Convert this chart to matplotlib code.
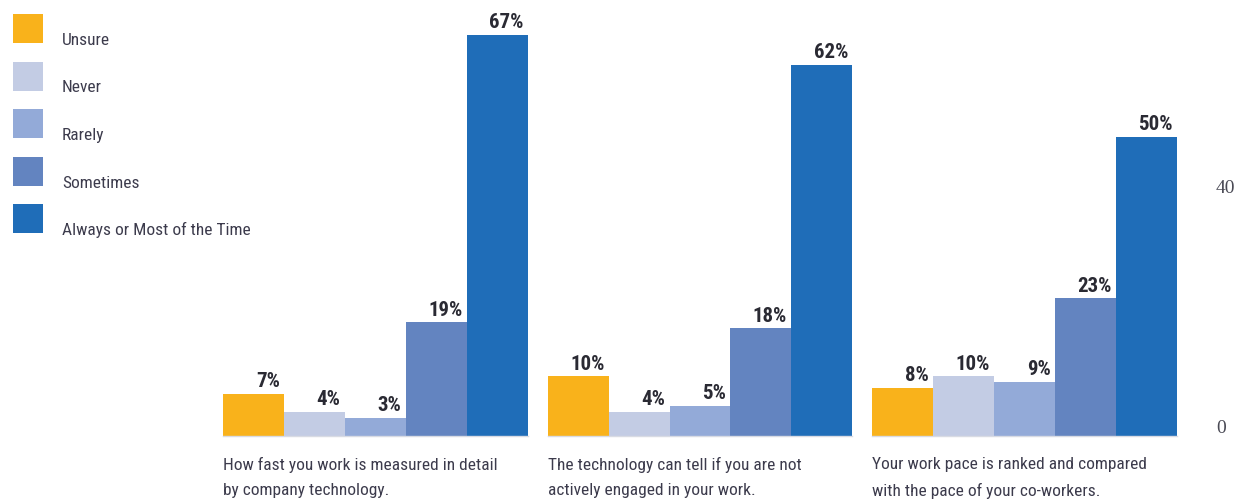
import matplotlib
matplotlib.use("Agg")
import matplotlib.pyplot as plt
from matplotlib import font_manager
from matplotlib.patches import Rectangle
import numpy as np

# survey answers, percent of respondents
categories = ["Unsure", "Never", "Rarely", "Sometimes", "Always or Most of the Time"]
questions = [
    "How fast you work is measured in detail\nby company technology.",
    "The technology can tell if you are not\nactively engaged in your work.",
    "Your work pace is ranked and compared\nwith the pace of your co-workers.",
]
values = [
    [7, 4, 3, 19, 67],
    [10, 4, 5, 18, 62],
    [8, 10, 9, 23, 50],
]
yticks = [0, 40]
colors = ["#F9B21B", "#C3CCE4", "#93AAD8", "#6384C0", "#1F6DB8"]

# pick a narrow sans if there is one
names = {f.name for f in font_manager.fontManager.ttflist}
narrow = "DejaVu Sans"
for cand in ["Liberation Sans Narrow", "Roboto Condensed", "Open Sans Condensed", "DejaVu Sans Condensed"]:
    if cand in names:
        narrow = cand
        break
stretch = "normal" if narrow != "DejaVu Sans" else "condensed"

text_col = "#3c3b4c"
W, H = 1243, 502
fig = plt.figure(figsize=(W / 100, H / 100), dpi=100)

# bars: width 1, gap between groups
gap = 0.33
n = len(categories)
span = len(values) * n + (len(values) - 1) * gap
left_px, right_px, base_px = 223, 1177, 437
px_per_pct = 5.99
ymax = 70
ax = fig.add_axes([left_px / W, (H - base_px) / H, (right_px - left_px) / W,
                   ymax * px_per_pct / H])

for g, vals in enumerate(values):
    x0 = g * (n + gap)
    xs = x0 + np.arange(n)
    ax.bar(xs, vals, width=1.0, align="edge", color=colors, linewidth=0)
    for x, v in zip(xs, vals):
        ax.text(x + 0.93, v + 0.6, f"{v}%", ha="right", va="bottom",
                fontsize=15, fontweight="bold", family=narrow, fontstretch=stretch,
                color="#2a2a33")
    ax.plot([x0, x0 + n], [0, 0], color="#d8dbe3", lw=1.0, clip_on=False)
    ax.text(x0, -3.4, questions[g], ha="left", va="top", fontsize=12.5,
            family=narrow, fontstretch=stretch, color=text_col, linespacing=1.8)

ax.set_xlim(0, span)
ax.set_ylim(0, ymax)
for s in ax.spines.values():
    s.set_visible(False)
ax.set_xticks([])
ax.yaxis.tick_right()
ax.set_yticks(yticks)
ax.set_yticklabels([str(t) for t in yticks], family="Liberation Serif", fontsize=14,
                   color="#4a4a55")
ax.tick_params(axis="y", length=0, pad=28)
for lab in ax.get_yticklabels():
    lab.set_va("bottom")

# key: coloured squares with the text baseline on the square's lower edge
sq_w, sq_h, row = 30, 29, 47.5
for i, (c, lab) in enumerate(zip(colors, categories)):
    top = 15 + i * row
    fig.add_artist(Rectangle((13 / W, 1 - (top + sq_h) / H), sq_w / W, sq_h / H,
                             transform=fig.transFigure, facecolor=c, edgecolor="none"))
    fig.text(62 / W, 1 - (top + sq_h + 1) / H, lab, ha="left", va="baseline",
             fontsize=12.5, family=narrow, fontstretch=stretch, color=text_col)

fig.savefig("out.png", dpi=100)
